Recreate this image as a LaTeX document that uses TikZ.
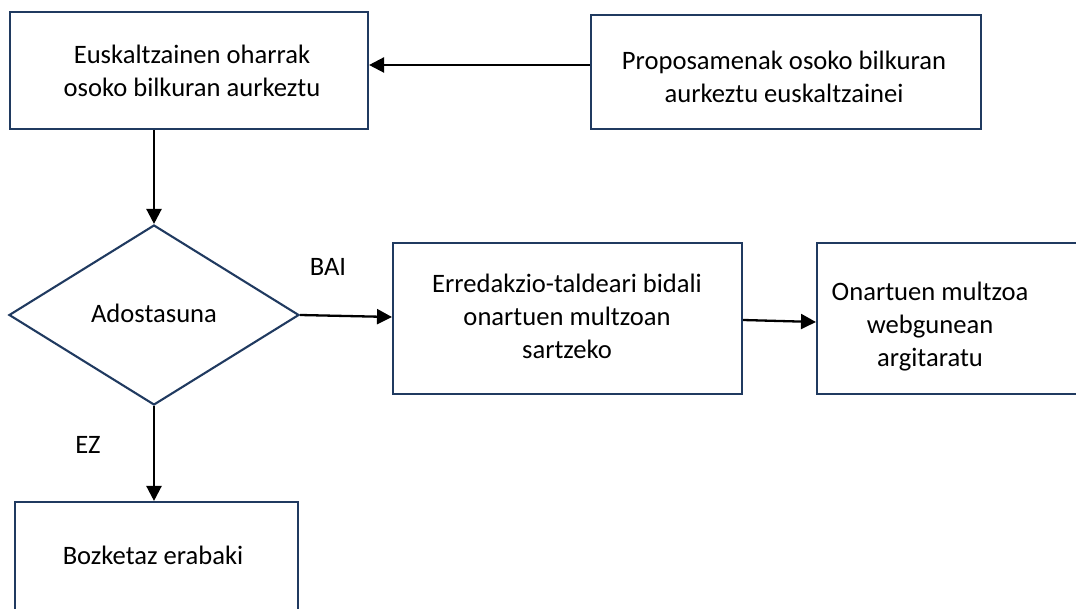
\documentclass[tikz,border=0pt]{standalone}
\usepackage{fontspec}
\setmainfont{Carlito}
\usetikzlibrary{arrows.meta,shapes.geometric}
\definecolor{navy}{HTML}{203A60}
\begin{document}
\begin{tikzpicture}[x=1pt,y=-1pt,
  box/.style={draw=navy,line width=2.1pt,rectangle,inner sep=0pt},
  dia/.style={draw=navy,line width=2.1pt,diamond,inner sep=0pt},
  txt/.style={font=\fontsize{26.6}{33}\selectfont,align=center,inner sep=0pt},
  arr/.style={draw=black,line width=2.3pt,-{Triangle[length=15pt,width=15pt]}}]
\useasboundingbox (0,0) rectangle (1076,609);
\clip (0,0) rectangle (1076,609);
% boxes
\node[box,minimum width=358pt,minimum height=117pt] (b1) at (189,70.5) {};
\node[box,minimum width=390pt,minimum height=114pt] (b2) at (786,72) {};
\node[dia,minimum width=290pt,minimum height=180pt] (d) at (154,315) {};
\node[box,minimum width=349pt,minimum height=151pt] (b3) at (567.5,318.5) {};
\node[box,minimum width=293pt,minimum height=151pt] (b4) at (963.5,318.5) {};
\node[box,minimum width=283pt,minimum height=148pt] (b5) at (156.5,576) {};
% texts
\node[txt] (t1) at (192,71) {Euskaltzainen oharrak\\osoko bilkuran aurkeztu};
\node[txt] (t2) at (784,77) {Proposamenak osoko bilkuran\\aurkeztu euskaltzainei};
\node[txt] (td) at (154,313) {Adostasuna};
\node[txt] (t3) at (567,316) {Erredakzio-taldeari bidali\\onartuen multzoan\\sartzeko};
\node[txt] (t4) at (930,327) {Onartuen multzoa\\webgunean\\argitaratu};
\node[txt] (t5) at (153,555) {Bozketaz erabaki};
\node[txt] (lbai) at (328,267) {BAI};
\node[txt] (lez) at (88,445) {EZ};
% helper coordinates
\coordinate (y65) at (0,65);
\coordinate (y317) at (0,317);
\coordinate (y320) at (0,320);
\coordinate (y322) at (0,322);
% connectors
\draw[arr] (b2.west |- y65) -- (b1.east |- y65);
\draw[arr] (b1.south -| d.north) -- (d.north);
\draw[arr] (d.east) -- (b3.west |- y317);
\draw[arr] (b3.east |- y320) -- (b4.west |- y322);
\draw[arr] (d.south) -- (d.south |- b5.north);
\end{tikzpicture}
\end{document}
